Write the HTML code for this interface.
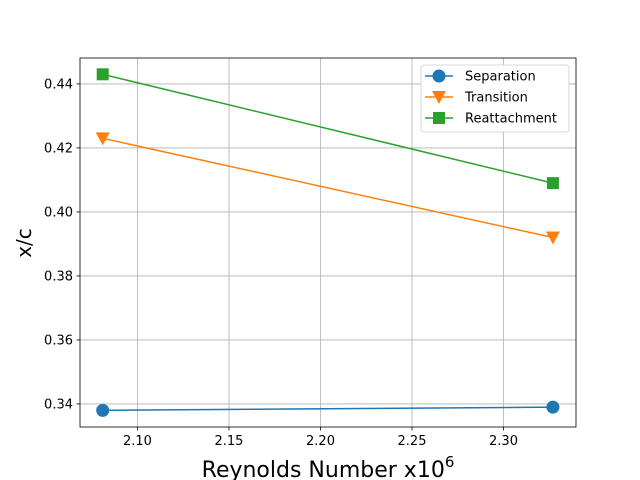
<!DOCTYPE html>
<html><head><meta charset="utf-8"><style>body{margin:0;background:#fff}svg{display:block;font-family:"DejaVu Sans","Liberation Sans",sans-serif}</style></head>
<body>
<svg id="chart" width="640" height="480"></svg>
<script>
const xValues=[2.081,2.327];
const separation=[0.338,0.339];
const transition=[0.423,0.392];
const reattachment=[0.443,0.409];
const xTicks=[2.10,2.15,2.20,2.25,2.30];
const yTicks=[0.34,0.36,0.38,0.40,0.42,0.44];
const seriesNames=["Separation","Transition","Reattachment"];
const L=80,R=576,T=58,B=427,x0=2.0686,x1=2.3396,y0=0.3328,y1=0.4481;
const sx=v=>L+(v-x0)/(x1-x0)*(R-L);
const sy=v=>B-(v-y0)/(y1-y0)*(B-T);
const svg=document.getElementById('chart');
const NS='http://www.w3.org/2000/svg';
function mk(t,a,p){const e=document.createElementNS(NS,t);for(const k in a)e.setAttribute(k,a[k]);(p||svg).appendChild(e);return e;}
xTicks.forEach(v=>{const x=sx(v);
const g=mk('line',{x1:x,x2:x,y1:T,y2:B,stroke:'#b0b0b0','stroke-width':0.8});

mk('line',{x1:x,x2:x,y1:B,y2:B+3.5,stroke:'#000','stroke-width':0.8});
const t=mk('text',{x:x,y:B+18,'text-anchor':'middle','font-size':13});t.textContent=v.toFixed(2);
});
yTicks.forEach(v=>{const y=sy(v);
const g=mk('line',{x1:L,x2:R,y1:y,y2:y,stroke:'#b0b0b0','stroke-width':0.8});

mk('line',{x1:L-3.5,x2:L,y1:y,y2:y,stroke:'#000','stroke-width':0.8});
const t=mk('text',{x:L-7,y:y+4.5,'text-anchor':'end','font-size':13});t.textContent=v.toFixed(2);
});
const colors=['#1f77b4','#ff7f0e','#2ca02c'];
function marker(kind,x,y,c,p){
 if(kind===0)return mk('circle',{cx:x,cy:y,r:6.5,fill:c},p);
 if(kind===1)return mk('polygon',{points:`${x-7},${y-6} ${x+7},${y-6} ${x},${y+7}`,fill:c},p);
 return mk('rect',{x:x-6,y:y-6,width:12,height:12,fill:c},p);}
[separation,transition,reattachment].forEach((s,i)=>{
 const pl=mk('polyline',{points:s.map((v,j)=>sx(xValues[j])+','+sy(v)).join(' '),fill:'none',stroke:colors[i],'stroke-width':1.5});
 
 s.forEach((v,j)=>{const m=marker(i,sx(xValues[j]),sy(v),colors[i]);
 });});
const fr=mk('rect',{x:L,y:T,width:R-L,height:B-T,fill:'none',stroke:'#000','stroke-width':0.8});

const lg=mk('g',{});
mk('rect',{x:421,y:65,width:148,height:67,rx:3,fill:'#fff',stroke:'#ccc','stroke-width':0.8},lg);
seriesNames.forEach((n,i)=>{const y=76+i*21;
 mk('line',{x1:425,x2:453,y1:y,y2:y,stroke:colors[i],'stroke-width':1.5},lg);
 marker(i,439,y,colors[i],lg);
 const t=mk('text',{x:465,y:y+4.5,'font-size':13},lg);t.textContent=n;
 });
const xt=mk('text',{x:328,y:477,'text-anchor':'middle','font-size':22});
xt.innerHTML='Reynolds Number x10<tspan dy="-10" font-size="15">6</tspan>';

const yt=mk('text',{x:0,y:0,'text-anchor':'middle','font-size':20,transform:'translate(31,243) rotate(-90)'});
yt.textContent='x/c';
</script>
</body></html>
